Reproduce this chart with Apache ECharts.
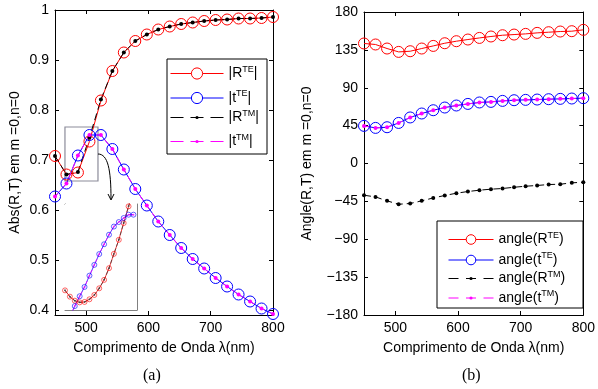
<!DOCTYPE html>
<html>
<head>
<meta charset="utf-8">
<script src="https://cdn.jsdelivr.net/npm/echarts@6/dist/echarts.min.js"></script>
<style>
  html, body { margin: 0; padding: 0; background: #fff; }
  #chart { width: 598px; height: 389px; }
</style>
</head>
<body>
<div id="chart"></div>
<script>
// wavelength samples (nm), 20 points from 450 to 800
const wavelength = [450.0, 468.4, 486.8, 505.3, 523.7, 542.1, 560.5, 578.9, 597.4, 615.8,
  634.2, 652.6, 671.1, 689.5, 707.9, 726.3, 744.7, 763.2, 781.6, 800.0];

// (a) magnitudes
const absRTE = [0.708, 0.671, 0.675, 0.737, 0.819, 0.878, 0.915, 0.938, 0.951, 0.961,
  0.967, 0.972, 0.975, 0.978, 0.980, 0.981, 0.983, 0.983, 0.984, 0.986];
const absTTE = [0.627, 0.653, 0.709, 0.750, 0.750, 0.722, 0.681, 0.642, 0.609, 0.577,
  0.550, 0.524, 0.502, 0.483, 0.464, 0.447, 0.431, 0.417, 0.403, 0.392];
const absRTM = [0.708, 0.671, 0.676, 0.745, 0.821, 0.878, 0.915, 0.938, 0.951, 0.961,
  0.967, 0.972, 0.975, 0.978, 0.980, 0.981, 0.983, 0.983, 0.984, 0.986];
const absTTM = [0.627, 0.653, 0.709, 0.750, 0.750, 0.722, 0.681, 0.642, 0.609, 0.577,
  0.550, 0.524, 0.502, 0.483, 0.464, 0.447, 0.431, 0.417, 0.403, 0.392];

// (b) phases (degrees)
const angRTE = [142.6, 141.4, 136.6, 132.6, 133.4, 136.6, 139.7, 142.9, 145.3, 147.3,
  149.2, 150.9, 152.4, 153.2, 154.0, 155.2, 156.0, 156.8, 157.2, 158.8];
const angTTE = [44.7, 42.3, 43.1, 48.2, 54.7, 59.4, 63.3, 66.5, 68.9, 70.8,
  72.5, 73.2, 74.4, 75.2, 75.6, 76.0, 76.4, 76.8, 77.2, 77.6];
const angRTM = [-37.7, -39.7, -44.4, -48.4, -47.5, -44.4, -40.9, -38.0, -35.3, -33.3,
  -31.7, -30.5, -29.7, -28.2, -27.0, -26.1, -25.0, -24.6, -23.0, -22.2];
const angTTM = [44.7, 42.3, 43.1, 48.2, 54.7, 59.4, 63.3, 66.5, 68.9, 70.8,
  72.5, 73.2, 74.4, 75.2, 75.6, 76.0, 76.4, 76.8, 77.2, 77.6];

// inset (zoom of the boxed region), finer sampling
const insetWavelength = [466.0, 469.6, 473.2, 476.8, 480.4, 484.0, 487.6, 491.2,
  494.8, 498.4, 502.0, 505.6, 509.2, 512.8, 516.4];
const insetAbsR = [0.678, 0.6716, 0.6675, 0.6658, 0.6662, 0.6689, 0.6733, 0.6801,
  0.6887, 0.7006, 0.7152, 0.7295, 0.7466, 0.7636, 0.780];
const insetAbsT = [null, 0.651, 0.662, 0.672, 0.6815, 0.693, 0.704, 0.715,
  0.725, 0.7347, 0.743, 0.7476, 0.7517, 0.7551, 0.7551];
const zoomBox = { x: [466, 519], y: [0.658, 0.766] };

// ticks
const wlTicks = [500, 600, 700, 800];
const absTicks = [0.4, 0.5, 0.6, 0.7, 0.8, 0.9, 1.0];
const angTicks = [-180, -135, -90, -45, 0, 45, 90, 135, 180];
const insetXTicks = [472, 479, 486, 493, 500, 507, 514];
const insetYTicks = [0.67, 0.68, 0.69, 0.70, 0.71, 0.72, 0.73, 0.74, 0.75, 0.76];

const FONT = "Liberation Sans";
const RED = "#ff0000", BLUE = "#0000ff", BLACK = "#000000", MAGENTA = "#ff00ff";
const CLEAR = "rgba(255,255,255,0)";

const pairs = (xs, ys) => xs.map((x, i) => [x, ys[i]]);

function teSeries(name, ys, color, idx) {
  return {
    type: "line", name, xAxisIndex: idx, yAxisIndex: idx,
    data: pairs(wavelength, ys),
    symbol: "circle", symbolSize: 11,
    lineStyle: { color, width: 1 },
    itemStyle: { color: CLEAR, borderColor: color, borderWidth: 1 },
    clip: false, animation: false, silent: true,
  };
}
function tmSeries(name, ys, color, idx) {
  return {
    type: "line", name, xAxisIndex: idx, yAxisIndex: idx,
    data: pairs(wavelength, ys),
    symbol: "circle", symbolSize: 4,
    lineStyle: { color, width: 1, type: [7, 4] },
    itemStyle: { color },
    clip: false, animation: false, silent: true,
  };
}
function insetSeries(name, ys, color, te) {
  return {
    type: "line", name, xAxisIndex: 4, yAxisIndex: 4,
    data: pairs(insetWavelength, ys),
    symbol: "circle", symbolSize: te ? 5 : 2,
    lineStyle: { color, width: 1, opacity: 0.75, type: te ? "solid" : [4, 2] },
    itemStyle: te ? { color: CLEAR, borderColor: color, borderWidth: 1, opacity: 0.6 } : { color, opacity: 0.7 },
    clip: true, animation: false, silent: true,
  };
}

const insetAxisStyle = (ticks) => ({
  axisLabel: { show: false },
  axisLine: { show: true, onZero: false, lineStyle: { color: "#808080" } },
  axisTick: { show: true, inside: true, length: 2, customValues: ticks, lineStyle: { color: "#808080" } },
});

function xAx(grid, pos, min, max, ticks, opts) {
  return Object.assign({
    type: "value", gridIndex: grid, position: pos, min, max,
    axisLine: { show: true, onZero: false, lineStyle: { color: "#000", width: 1 } },
    axisTick: { show: true, inside: true, length: 4, customValues: ticks, lineStyle: { color: "#000" } },
    axisLabel: { show: pos === "bottom", customValues: ticks, color: "#000", fontSize: 14, fontFamily: FONT, margin: 6 },
    splitLine: { show: false },
  }, opts || {});
}
function yAx(grid, pos, min, max, ticks, fmt, opts) {
  return Object.assign({
    type: "value", gridIndex: grid, position: pos, min, max,
    axisLine: { show: true, onZero: false, lineStyle: { color: "#000", width: 1 } },
    axisTick: { show: true, inside: true, length: 4, customValues: ticks, lineStyle: { color: "#000" } },
    axisLabel: { show: pos === "left", customValues: ticks, formatter: fmt, color: "#000", fontSize: 14, fontFamily: FONT, margin: 6 },
    splitLine: { show: false },
  }, opts || {});
}

const xName = "Comprimento de Onda \u03bb(nm)";
const nameStyle = { color: "#000", fontSize: 14, fontFamily: FONT };
const absFmt = (v) => (Math.abs(v - 1) < 1e-9 ? "1" : v.toFixed(1));
const angFmt = (v) => (v < 0 ? "\u2212" + (-v) : String(v));

const richStyle = {
  n: { fontSize: 14, fontFamily: FONT, color: "#000" },
  s: { fontSize: 9, fontFamily: FONT, color: "#000", padding: [0, 0, 8, 0] },
};
const legendFmt = (name) => "{n|" + name.replace(/\^\{(\w+)\}/, "}{s|$1}{n|") + "}";

// legend entries styled like the MATLAB legend (line + marker)
const teItem = (name, color) => ({
  name,
  itemStyle: { color: "#fff", borderColor: color, borderWidth: 1 },
  lineStyle: { color, width: 1, type: "solid" },
});
const tmItem = (name, color, dash) => ({
  name,
  itemStyle: { color, borderWidth: 0 },
  lineStyle: { color, width: 1, type: dash },
});

function legend(data, left, top, w, h, gap) {
  return {
    orient: "vertical", left, top, itemWidth: w, itemHeight: h, itemGap: gap,
    padding: 0, selectedMode: false, data, formatter: legendFmt,
    textStyle: { fontSize: 14, fontFamily: FONT, color: "#000", rich: richStyle },
    z: 6,
  };
}

const chart = echarts.init(document.getElementById("chart"), null, { renderer: "canvas" });

const leftSeries = [
  teSeries("|R^{TE}|", absRTE, RED, 0),
  teSeries("|t^{TE}|", absTTE, BLUE, 0),
  tmSeries("|R^{TM}|", absRTM, BLACK, 0),
  tmSeries("|t^{TM}|", absTTM, MAGENTA, 0),
];
leftSeries[0].markArea = {
  silent: true,
  itemStyle: { color: "rgba(0,0,0,0)", borderColor: "#8c8c9a", borderWidth: 1.2 },
  data: [[{ xAxis: zoomBox.x[0], yAxis: zoomBox.y[1] }, { xAxis: zoomBox.x[1], yAxis: zoomBox.y[0] }]],
};

chart.setOption({
  animation: false,
  backgroundColor: "#fff",
  grid: [
    { left: 55, top: 10, width: 218, height: 305 },
    { left: 364, top: 12, width: 220, height: 303 },
    { left: 65, top: 204, width: 72, height: 106, backgroundColor: "#fff", show: true, borderWidth: 0, z: 3 },
  ],
  xAxis: [
    xAx(0, "bottom", 450, 800, wlTicks, { name: xName, nameLocation: "middle", nameGap: 26, nameTextStyle: nameStyle }),
    xAx(0, "top", 450, 800, wlTicks),
    xAx(1, "bottom", 450, 800, wlTicks, { name: xName, nameLocation: "middle", nameGap: 26, nameTextStyle: nameStyle }),
    xAx(1, "top", 450, 800, wlTicks),
    xAx(2, "bottom", zoomBox.x[0], zoomBox.x[1], insetXTicks, insetAxisStyle(insetXTicks)),
    xAx(2, "top", zoomBox.x[0], zoomBox.x[1], insetXTicks, insetAxisStyle(insetXTicks)),
  ],
  yAxis: [
    yAx(0, "left", 0.39, 1, absTicks, absFmt, { name: "Abs(R,T) em m =0,n=0", nameLocation: "middle", nameGap: 33, nameTextStyle: nameStyle }),
    yAx(0, "right", 0.39, 1, absTicks, absFmt),
    yAx(1, "left", -180, 180, angTicks, angFmt, { name: "Angle(R,T) em m =0,n=0", nameLocation: "middle", nameGap: 50, nameTextStyle: nameStyle }),
    yAx(1, "right", -180, 180, angTicks, angFmt),
    yAx(2, "left", zoomBox.y[0], zoomBox.y[1], insetYTicks, null, insetAxisStyle(insetYTicks)),
    yAx(2, "right", zoomBox.y[0], zoomBox.y[1], insetYTicks, null, insetAxisStyle(insetYTicks)),
  ],
  legend: [
    legend([teItem("|R^{TE}|", RED), teItem("|t^{TE}|", BLUE)], 170, 65, 53, 14, 9),
    legend([tmItem("|R^{TM}|", BLACK, [13, 7]), tmItem("|t^{TM}|", MAGENTA, [13, 7])], 170, 109, 53, 4, 8.5),
    legend([teItem("angle(R^{TE})", RED), teItem("angle(t^{TE})", BLUE)], 448, 231, 45, 12, 5),
    legend([tmItem("angle(R^{TM})", BLACK, [10, 7.5]), tmItem("angle(t^{TM})", MAGENTA, [10, 7.5])], 448, 270, 45, 4, 4),
  ],
  graphic: [
    { type: "rect", z: 5, shape: { x: 167, y: 59, width: 100, height: 95 }, style: { fill: "#fff", stroke: "#000", lineWidth: 1 } },
    { type: "rect", z: 5, shape: { x: 437, y: 221, width: 146, height: 87 }, style: { fill: "#fff", stroke: "#000", lineWidth: 1 } },
    { type: "bezierCurve", z: 5, shape: { x1: 98, y1: 154, cpx1: 108, cpy1: 154, cpx2: 111, cpy2: 170, x2: 111, y2: 199 }, style: { stroke: "#000", fill: null, lineWidth: 1 } },
    { type: "polyline", z: 5, shape: { points: [[108, 194], [111, 200], [114, 194]] }, style: { stroke: "#000", fill: null, lineWidth: 1 } },
    { type: "text", left: 143, top: 368, style: { text: "(a)", fontSize: 16, fontFamily: "Liberation Serif", fill: "#000" } },
    { type: "text", left: 462, top: 368, style: { text: "(b)", fontSize: 16, fontFamily: "Liberation Serif", fill: "#000" } },
  ],
  series: [
    ...leftSeries,
    teSeries("angle(R^{TE})", angRTE, RED, 2),
    teSeries("angle(t^{TE})", angTTE, BLUE, 2),
    tmSeries("angle(R^{TM})", angRTM, BLACK, 2),
    tmSeries("angle(t^{TM})", angTTM, MAGENTA, 2),
    insetSeries("inset R TE", insetAbsR, RED, true),
    insetSeries("inset t TE", insetAbsT, BLUE, true),
    insetSeries("inset R TM", insetAbsR, "#333333", false),
    insetSeries("inset t TM", insetAbsT, MAGENTA, false),
  ],
});
</script>
</body>
</html>
